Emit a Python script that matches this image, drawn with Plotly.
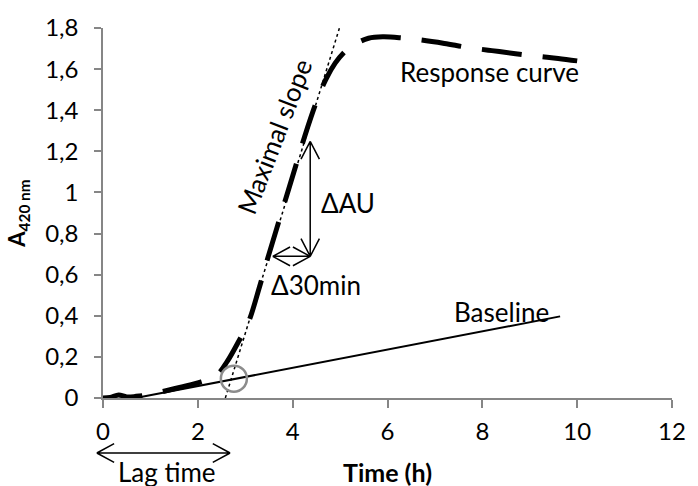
import math
import plotly.graph_objects as go

# Response curve (time in h, absorbance)
resp_x = [0, 0.15, 0.33, 0.5, 0.7, 1.0, 1.5, 2.0, 2.4, 2.62, 2.86, 3.07, 3.3, 3.5, 3.75, 4.0,
          4.25, 4.5, 4.7, 4.9, 5.1, 5.3, 5.6, 5.9, 6.3, 6.7, 7.2, 7.7, 8.2, 8.7, 9.2, 9.6, 10.0]
resp_y = [0, 0.003, 0.015, 0.005, 0.008, 0.018, 0.045, 0.073, 0.112, 0.178, 0.275, 0.37, 0.54,
          0.70, 0.89, 1.08, 1.27, 1.44, 1.55, 1.63, 1.685, 1.72, 1.75, 1.757, 1.752, 1.742,
          1.725, 1.705, 1.69, 1.675, 1.662, 1.652, 1.64]

# Baseline
base_x = [0.69, 9.64]
base_y = [0.0, 0.397]

# Maximal slope line
slope_x = [2.58, 5.0]
slope_y = [0.0, 1.81]

# Lag-time intersection point
cross_x = [2.76]
cross_y = [0.094]

# Delta arrows (x, y)
dau_x = [4.37, 4.37]
dau_y = [0.689, 1.248]
d30_x = [3.58, 4.37]
d30_y = [0.689, 0.689]

# Lag time arrow (time in h, below the axis)
lag_x = [-0.13, 2.68]

x_ticks = [0, 2, 4, 6, 8, 10, 12]
y_ticks = [0, 0.2, 0.4, 0.6, 0.8, 1.0, 1.2, 1.4, 1.6, 1.8]
y_ticktext = ["0", "0,2", "0,4", "0,6", "0,8", "1", "1,2", "1,4", "1,6", "1,8"]

FONT = "Lato"
W, H = 698, 486
ML, MR, MT, MB = 103, 14, 28, 88
XR, YR = [0, 12], [0, 1.8]
PW, PH = W - ML - MR, H - MT - MB
SX = PW / (XR[1] - XR[0])
SY = PH / (YR[1] - YR[0])


def double_arrow_path(x0, y0, x1, y1, to_px, from_px, arm=20, half=28):
    p0 = to_px(x0, y0)
    p1 = to_px(x1, y1)
    ang = math.atan2(p1[1] - p0[1], p1[0] - p0[0])
    segs = [(p0, p1)]
    for tip, a in ((p1, ang + math.pi), (p0, ang)):
        for s in (-1, 1):
            b = a + s * math.radians(half)
            segs.append((tip, (tip[0] + arm * math.cos(b), tip[1] + arm * math.sin(b))))
    parts = []
    for a, b in segs:
        da = from_px(*a)
        db = from_px(*b)
        parts.append(f"M {da[0]},{da[1]} L {db[0]},{db[1]}")
    return " ".join(parts)


def data_to_px(x, y):
    return (ML + (x - XR[0]) * SX, MT + PH - (y - YR[0]) * SY)


def px_to_data(px, py):
    return (XR[0] + (px - ML) / SX, YR[0] + (MT + PH - py) / SY)


def px_to_paper(px, py):
    return ((px - ML) / PW, (MT + PH - py) / PH)


fig = go.Figure()
fig.add_trace(go.Scatter(x=base_x, y=base_y, mode="lines",
                         line=dict(color="black", width=2), showlegend=False))
fig.add_trace(go.Scatter(x=slope_x, y=slope_y, mode="lines",
                         line=dict(color="black", width=1.5, dash="dot"), showlegend=False))
fig.add_trace(go.Scatter(x=resp_x, y=resp_y, mode="lines",
                         line=dict(color="black", width=5, dash="40px,21px", shape="spline"),
                         showlegend=False, cliponaxis=False))
fig.add_trace(go.Scatter(x=cross_x, y=cross_y, mode="markers",
                         marker=dict(symbol="circle-open", size=26,
                                     line=dict(color="#8c8c8c", width=2.5), color="#8c8c8c"),
                         showlegend=False))

arrow_line = dict(color="black", width=1.5)
fig.add_shape(type="path", xref="x", yref="y", line=arrow_line,
              path=double_arrow_path(dau_x[0], dau_y[0], dau_x[1], dau_y[1],
                                     data_to_px, px_to_data))
fig.add_shape(type="path", xref="x", yref="y", line=arrow_line,
              path=double_arrow_path(d30_x[0], d30_y[0], d30_x[1], d30_y[1],
                                     data_to_px, px_to_data))
lag_py = 453
fig.add_shape(type="path", xref="paper", yref="paper", line=arrow_line,
              path=double_arrow_path(data_to_px(lag_x[0], 0)[0], lag_py,
                                     data_to_px(lag_x[1], 0)[0], lag_py,
                                     lambda a, b: (a, b), px_to_paper))

txt_font = dict(family=FONT, size=26, color="black")
fig.add_annotation(x=8.15, y=1.588, xref="x", yref="y", text="Response curve",
                   showarrow=False, font=txt_font)
fig.add_annotation(x=8.4, y=0.42, xref="x", yref="y", text="Baseline",
                   showarrow=False, font=txt_font)
fig.add_annotation(x=5.17, y=0.95, xref="x", yref="y", text="ΔAU",
                   showarrow=False, font=txt_font)
fig.add_annotation(x=4.49, y=0.55, xref="x", yref="y", text="Δ30min",
                   showarrow=False, font=txt_font)
fig.add_annotation(x=3.61, y=1.27, xref="x", yref="y", text="Maximal slope",
                   showarrow=False, font=txt_font, textangle=-69)
fig.add_annotation(x=1.34, y=-0.2, xref="x", yref="paper", text="Lag time",
                   showarrow=False, font=txt_font, yanchor="middle")
fig.add_annotation(x=0.5, y=-0.2, xref="paper", yref="paper", text="<b>Time (h)</b>",
                   showarrow=False, font=dict(family=FONT, size=25, color="black"),
                   yanchor="middle")

fig.update_layout(
    width=W, height=H,
    margin=dict(l=ML, r=MR, t=MT, b=MB),
    plot_bgcolor="white", paper_bgcolor="white",
    font=dict(family=FONT, size=24, color="black"),
    xaxis=dict(range=XR, tickvals=x_ticks, showgrid=False, zeroline=False,
               showline=True, linecolor="#868686", linewidth=1.5,
               ticks="outside", ticklen=8, tickcolor="#868686", tickwidth=1.5,
               ticklabelstandoff=3, layer="below traces",
               tickfont=dict(family=FONT, size=24, color="black")),
    yaxis=dict(range=YR, tickvals=y_ticks, ticktext=y_ticktext, showgrid=False,
               zeroline=False, showline=True, linecolor="#868686", linewidth=1.5,
               ticks="outside", ticklen=7, tickcolor="#868686", tickwidth=1.5,
               ticklabelstandoff=11, layer="below traces",
               tickfont=dict(family=FONT, size=24, color="black"),
               title=dict(text="<b>A<sub>420 nm</sub></b>", standoff=13,
                          font=dict(family=FONT, size=22, color="black"))),
)

fig.write_html("out.html")
